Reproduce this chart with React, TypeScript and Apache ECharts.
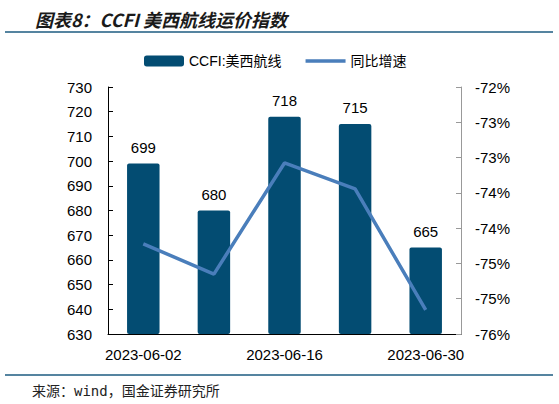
import { useEffect, useRef } from 'react';
import * as echarts from 'echarts';

const categories = ['2023-06-02', '2023-06-09', '2023-06-16', '2023-06-23', '2023-06-30'];
const ccfiValues = [699, 680, 718, 715, 665];
const yoyValues = [-74.54, -75.03, -73.23, -73.65, -75.61];

const BAR_COLOR = '#034c72';
const LINE_COLOR = '#4a7ebb';

// thin bar in the middle of a 40x11 box, corner dots keep the box size
const LINE_ICON = 'path://M0,0L0.01,0L0.01,0.01Z M0,3.8L40,3.8L40,7.2L0,7.2Z M40,11L39.99,11L39.99,10.99Z';

export default function App() {
  const divRef = useRef<HTMLDivElement>(null);

  useEffect(() => {
    if (!divRef.current) return;
    const chart = echarts.init(divRef.current, null, { renderer: 'svg' });

    chart.setOption({
      animation: false,
      textStyle: { fontFamily: 'Arial, "Liberation Sans", "Noto Sans CJK SC", sans-serif' },
      title: {
        text: '图表8：CCFI 美西航线运价指数',
        left: 30,
        top: 5,
        textStyle: {
          fontSize: 18,
          fontStyle: 'italic',
          fontWeight: 'bold',
          color: '#1a1a1a',
          fontFamily: '"Noto Sans CJK SC", sans-serif',
        },
      },
      legend: {
        top: 49,
        left: 139,
        itemWidth: 40,
        itemHeight: 11,
        itemGap: 24,
        textStyle: { fontSize: 14, color: '#000' },
        data: [
          { name: 'CCFI:美西航线', icon: 'roundRect' },
          { name: '同比增速', icon: LINE_ICON },
        ],
      },
      grid: { left: 108, right: 98, top: 87, bottom: 70 },
      xAxis: {
        type: 'category',
        data: categories,
        boundaryGap: true,
        axisLine: { lineStyle: { color: '#000', width: 1 } },
        axisTick: { inside: true, length: 5, lineStyle: { color: '#000' } },
        axisLabel: { interval: 1, fontSize: 15, color: '#000', margin: 13 },
      },
      yAxis: [
        {
          type: 'value',
          min: 630,
          max: 730,
          interval: 10,
          axisLine: { show: true, lineStyle: { color: '#000', width: 1 } },
          axisTick: { show: true, inside: true, length: 5, lineStyle: { color: '#000' } },
          axisLabel: { fontSize: 15, color: '#000', margin: 16 },
          splitLine: { show: false },
        },
        {
          type: 'value',
          min: -76,
          max: -72,
          interval: 4 / 7,
          position: 'right',
          axisLine: { show: true, lineStyle: { color: '#999', width: 1 } },
          axisTick: { show: true, inside: true, length: 5, lineStyle: { color: '#999' } },
          axisLabel: {
            fontSize: 15,
            color: '#000',
            margin: 14,
            formatter: (v: number) => `${Math.round(v)}%`,
          },
          splitLine: { show: false },
        },
      ],
      series: [
        {
          name: 'CCFI:美西航线',
          type: 'bar',
          data: ccfiValues,
          barWidth: '46%',
          itemStyle: { color: BAR_COLOR, borderRadius: 2 },
          label: {
            show: true,
            position: 'top',
            distance: 9,
            fontSize: 15,
            color: '#000',
          },
        },
        {
          name: '同比增速',
          type: 'line',
          yAxisIndex: 1,
          data: yoyValues,
          symbol: 'none',
          lineStyle: { color: LINE_COLOR, width: 3.5 },
          itemStyle: { color: LINE_COLOR },
        },
      ],
      graphic: [
        {
          type: 'line',
          shape: { x1: 5, y1: 32, x2: 553, y2: 32 },
          style: { stroke: '#1d5b80', lineWidth: 1.5 },
        },
        {
          type: 'line',
          shape: { x1: 5, y1: 375, x2: 553, y2: 375 },
          style: { stroke: '#1d5b80', lineWidth: 1.5 },
        },
        {
          type: 'text',
          left: 32,
          top: 384,
          style: {
            text: '来源：wind，国金证券研究所',
            fontSize: 14,
            fill: '#222',
            fontFamily: '"DejaVu Sans Mono", "Noto Sans CJK SC", monospace',
          },
        },
      ],
    });

    return () => chart.dispose();
  }, []);

  return (
    <div
      ref={divRef}
      style={{ position: 'fixed', left: 0, top: 0, width: '559px', height: '404px', background: '#fff' }}
    />
  );
}
